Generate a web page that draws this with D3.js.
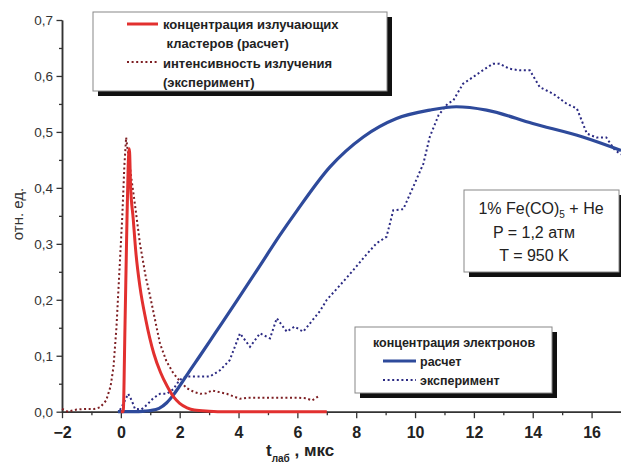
<!DOCTYPE html>
<html>
<head>
<meta charset="utf-8">
<script src="https://cdn.jsdelivr.net/npm/d3@7"></script>
<style>
  body { margin: 0; background: #fff; }
  svg { font-family: "Liberation Sans", Arial, sans-serif; }
</style>
</head>
<body>
<div class="chart"></div>
<script>
// data: [t, value]
var clusterCalc = [[0.0,0],[0.08,0],[0.14,0.15],[0.2,0.32],[0.25,0.44],[0.29,0.47],[0.33,0.405],[0.42,0.345],[0.51,0.285],[0.65,0.223],[0.85,0.164],[1.12,0.104],[1.35,0.07],[1.58,0.045],[1.8,0.026],[2.0,0.015],[2.25,0.007],[2.5,0.003],[3.0,0.001],[3.5,0],[7.0,0]];

var emissionExp = [[-2,0.005],[-1.8,0.0],[-1.5,0.004],[-1.2,0.005],[-0.9,0.005],[-0.7,0.008],[-0.5,0.02],[-0.35,0.045],[-0.25,0.08],[-0.15,0.15],[-0.05,0.25],[0.05,0.35],[0.12,0.44],[0.18,0.49],[0.25,0.46],[0.35,0.42],[0.48,0.37],[0.65,0.3],[0.85,0.24],[1.0,0.205],[1.33,0.122],[1.55,0.09],[1.78,0.069],[2.0,0.055],[2.24,0.042],[2.5,0.035],[2.7,0.032],[2.9,0.033],[3.1,0.038],[3.35,0.035],[3.6,0.032],[3.85,0.027],[4.05,0.023],[4.3,0.025],[4.6,0.025],[5.0,0.025],[5.5,0.025],[6.0,0.025],[6.3,0.024],[6.5,0.02],[6.7,0.027]];

var electronCalc = [[-0.1,0],[0.5,0],[0.8,0.001],[1.0,0.002],[1.3,0.006],[1.56,0.016],[1.8,0.031],[2.0,0.046],[2.3,0.07],[2.69,0.1],[3.2,0.14],[3.94,0.198],[4.84,0.27],[5.4,0.315],[5.97,0.358],[7.11,0.4375],[8.24,0.491],[9.37,0.524],[10.5,0.539],[11.4,0.545],[12.43,0.539],[14.0,0.515],[15.7,0.491],[17,0.467]];

var electronExp = [[-0.03,0.003],[0.14,0.02],[0.25,0.032],[0.37,0.02],[0.48,0.005],[0.7,0.004],[0.88,0.012],[1.1,0.024],[1.33,0.032],[1.56,0.032],[1.78,0.04],[2.0,0.057],[2.24,0.063],[2.69,0.063],[3.03,0.063],[3.37,0.074],[3.7,0.092],[4.05,0.14],[4.39,0.116],[4.73,0.14],[5.07,0.131],[5.3,0.167],[5.64,0.143],[5.9,0.152],[6.2,0.143],[6.43,0.158],[6.77,0.18],[7.0,0.2],[7.45,0.226],[7.9,0.253],[8.3,0.278],[8.69,0.301],[9.03,0.3125],[9.26,0.36],[9.6,0.362],[9.94,0.402],[10.28,0.443],[10.5,0.491],[10.8,0.53],[11.1,0.55],[11.3,0.556],[11.63,0.586],[11.97,0.598],[12.3,0.61],[12.65,0.622],[12.87,0.622],[13.2,0.613],[13.55,0.61],[13.9,0.61],[14.24,0.58],[14.7,0.568],[15.16,0.55],[15.5,0.542],[15.84,0.497],[16.17,0.49],[16.5,0.49],[16.8,0.467],[17,0.46]];

var xTicks = [-2, 0, 2, 4, 6, 8, 10, 12, 14, 16];
var yTicks = [0, 0.1, 0.2, 0.3, 0.4, 0.5, 0.6, 0.7];
var legend1Labels = ["концентрация излучающих", " кластеров (расчет)", "интенсивность излучения", "(эксперимент)"];
var legend2Title = "концентрация электронов";
var legend2Labels = ["расчет", "эксперимент"];
var infoLines = ["P = 1,2 атм", "T = 950 K"];

var svgWidth = 621, svgHeight = 464;
var margin = { top: 20, right: 0, bottom: 52.3, left: 62 };
var width = svgWidth - margin.left - margin.right;
var height = svgHeight - margin.top - margin.bottom;

var svg = d3.select(".chart").append("svg")
  .attr("width", svgWidth)
  .attr("height", svgHeight);

var chartGroup = svg.append("g")
  .attr("transform", `translate(${margin.left}, ${margin.top})`);

var x = d3.scaleLinear().domain([-2, 17]).range([0, width]);
var y = d3.scaleLinear().domain([0, 0.7]).range([height, 0]);

// axes
var bottomAxis = d3.axisBottom(x).tickValues(xTicks).tickSize(6.5).tickSizeOuter(0).tickFormat(d3.format("d"));
var leftAxis = d3.axisLeft(y).tickValues(yTicks).tickSize(5.5).tickSizeOuter(0)
  .tickFormat(d => d3.format(".1f")(d).replace(".", ","));

var xMinor = d3.axisBottom(x).tickValues(d3.range(-1, 17, 2)).tickSize(3.5).tickSizeOuter(0).tickFormat("");
var yMinor = d3.axisLeft(y).tickValues(d3.range(0.05, 0.7, 0.1)).tickSize(3).tickSizeOuter(0).tickFormat("");

var gx = chartGroup.append("g").attr("transform", `translate(0, ${height})`).call(bottomAxis);
chartGroup.append("g").attr("transform", `translate(0, ${height})`).call(xMinor);
var gy = chartGroup.append("g").call(leftAxis);
chartGroup.append("g").call(yMinor);

chartGroup.selectAll(".domain").attr("stroke", "#333").attr("stroke-width", 1.5);
chartGroup.selectAll(".tick line").attr("stroke", "#333").attr("stroke-width", 1.3);

gx.selectAll("text")
  .attr("font-size", 16).attr("font-weight", "bold").attr("fill", "#222")
  .attr("font-family", "Liberation Sans, Arial, sans-serif")
  .attr("dy", "1.05em");
gy.selectAll("text")
  .attr("font-size", 13.5).attr("fill", "#333")
  .attr("font-family", "Liberation Sans, Arial, sans-serif")
  .attr("x", -9);

// lines
var lineSmooth = d3.line().x(d => x(d[0])).y(d => y(d[1])).curve(d3.curveMonotoneX);
var lineRaw = d3.line().x(d => x(d[0])).y(d => y(d[1]));

chartGroup.append("path").datum(emissionExp)
  .attr("d", lineRaw).attr("fill", "none")
  .attr("stroke", "#7d1e22").attr("stroke-width", 2).attr("stroke-dasharray", "2,2.6");

chartGroup.append("path").datum(electronExp)
  .attr("d", lineRaw).attr("fill", "none")
  .attr("stroke", "#2b2a83").attr("stroke-width", 2).attr("stroke-dasharray", "2,2.6");

chartGroup.append("path").datum(electronCalc)
  .attr("d", lineSmooth).attr("fill", "none")
  .attr("stroke", "#2e4a9b").attr("stroke-width", 3.2);

chartGroup.append("path").datum(clusterCalc)
  .attr("d", lineSmooth).attr("fill", "none")
  .attr("stroke", "#e2302f").attr("stroke-width", 3);

// axis titles
svg.append("text")
  .attr("transform", "translate(23, 214) rotate(-90)")
  .attr("text-anchor", "middle")
  .attr("font-size", 15).attr("fill", "#333")
  .text("отн. ед.");

var xt = svg.append("text")
  .attr("x", 266).attr("y", 455.5)
  .attr("font-size", 17).attr("font-weight", "bold").attr("fill", "#222");
xt.append("tspan").text("t");
xt.append("tspan").attr("font-size", 10).attr("dy", 6).text("лаб");
xt.append("tspan").attr("dy", -6).text(" , мкс");

// boxes with shadow
function shadowBox(x0, y0, w, h) {
  svg.append("rect").attr("x", x0 + 5).attr("y", y0 + 5).attr("width", w).attr("height", h).attr("fill", "#111");
  svg.append("rect").attr("x", x0).attr("y", y0).attr("width", w).attr("height", h)
    .attr("fill", "#fff").attr("stroke", "#888").attr("stroke-width", 1);
}

// legend 1
shadowBox(93, 12, 294, 79);
svg.append("line").attr("x1", 127).attr("x2", 158).attr("y1", 24).attr("y2", 24)
  .attr("stroke", "#e2302f").attr("stroke-width", 3);
svg.append("line").attr("x1", 127).attr("x2", 158).attr("y1", 62).attr("y2", 62)
  .attr("stroke", "#7d1e22").attr("stroke-width", 2).attr("stroke-dasharray", "2,2.6");
svg.selectAll(".leg1").data(legend1Labels).enter().append("text")
  .attr("class", "leg1")
  .attr("x", 163).attr("y", (d, i) => 29 + i * 19.3)
  .attr("font-size", 13).attr("font-weight", "bold").attr("fill", "#222")
  .attr("xml:space", "preserve").style("white-space", "pre")
  .text(d => d);

// info box
shadowBox(464, 190, 155, 82);
var info1 = svg.append("text").attr("x", 541).attr("y", 213.5).attr("text-anchor", "middle")
  .attr("font-size", 16).attr("fill", "#222");
info1.append("tspan").text("1% Fe(CO)");
info1.append("tspan").attr("font-size", 10).attr("dy", 4).text("5");
info1.append("tspan").attr("dy", -4).text(" + He");
svg.selectAll(".info").data(infoLines).enter().append("text")
  .attr("class", "info")
  .attr("x", 534).attr("y", (d, i) => 238 + i * 22.5).attr("text-anchor", "middle")
  .attr("font-size", 16).attr("fill", "#222")
  .text(d => d);

// legend 2
shadowBox(355, 327, 197, 66);
svg.append("text").attr("x", 454).attr("y", 347).attr("text-anchor", "middle")
  .attr("font-size", 12.5).attr("font-weight", "bold").attr("fill", "#222")
  .text(legend2Title);
svg.append("line").attr("x1", 383).attr("x2", 416).attr("y1", 361).attr("y2", 361)
  .attr("stroke", "#2e4a9b").attr("stroke-width", 3.2);
svg.append("line").attr("x1", 383).attr("x2", 416).attr("y1", 380).attr("y2", 380)
  .attr("stroke", "#2b2a83").attr("stroke-width", 2).attr("stroke-dasharray", "2,2.6");
svg.selectAll(".leg2").data(legend2Labels).enter().append("text")
  .attr("class", "leg2")
  .attr("x", 420).attr("y", (d, i) => 365.5 + i * 19)
  .attr("font-size", 12.5).attr("font-weight", "bold").attr("fill", "#222")
  .text(d => d);
</script>
</body>
</html>
